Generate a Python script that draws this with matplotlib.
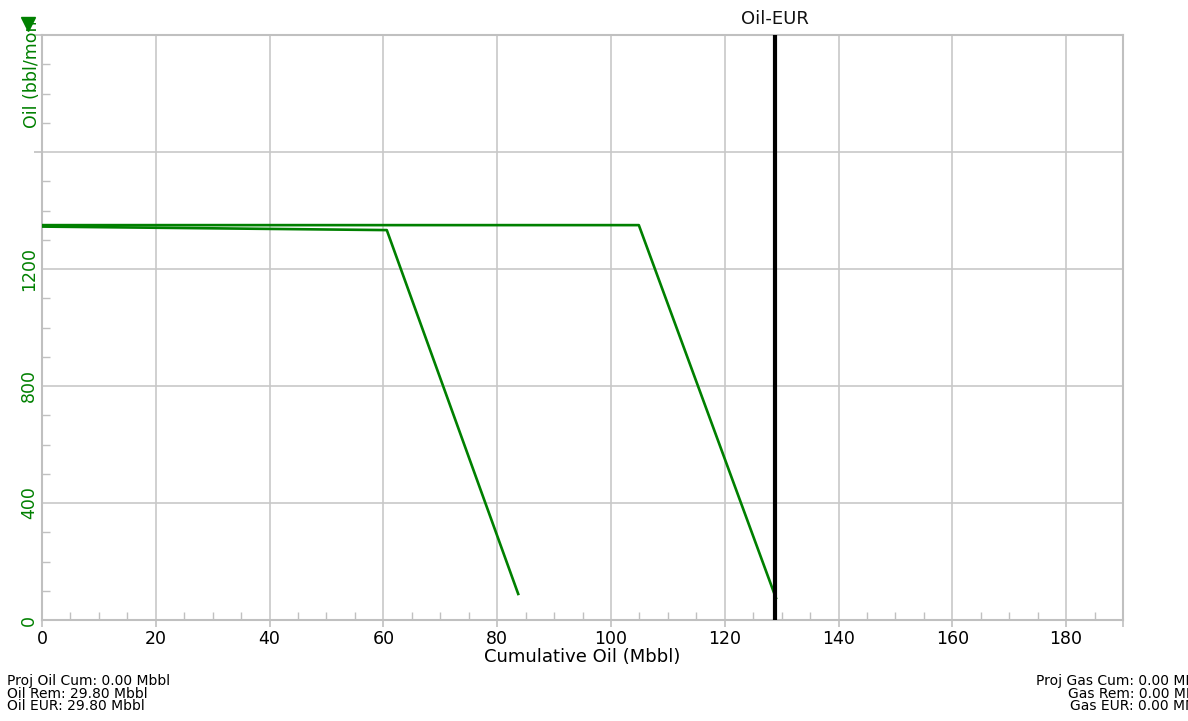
import matplotlib
matplotlib.use("Agg")
import matplotlib.pyplot as plt
from matplotlib.ticker import MultipleLocator
from matplotlib.patches import Rectangle
from matplotlib.lines import Line2D

# Forecast curves: cumulative oil (Mbbl) vs oil rate (bbl/month)
case_a_cum = [0.0, 60.6, 83.7]
case_a_rate = [1345, 1333, 89]
case_b_cum = [0.0, 104.9, 129.0]
case_b_rate = [1350, 1350, 75]
eur_cum = 128.8

x_ticks = [0, 20, 40, 60, 80, 100, 120, 140, 160, 180]
y_ticks = [0, 400, 800, 1200]

summary_left = ["Proj Oil Cum: 0.00 Mbbl", "Oil Rem: 29.80 Mbbl", "Oil EUR: 29.80 Mbbl"]
summary_right = ["Proj Gas Cum: 0.00 MMcf", "Gas Rem: 0.00 MMcf", "Gas EUR: 0.00 MMcf"]

GREEN = "#008000"
GRID = "#c8c8c8"
SPINE = "#c0c0c0"

W, H = 1188, 721
fig = plt.figure(figsize=(W / 100, H / 100), dpi=100)
ax = fig.add_axes([42 / W, 1 - 620 / H, (1123 - 42) / W, (620 - 35) / H])

ax.plot(case_a_cum, case_a_rate, color=GREEN, lw=1.9, zorder=3)
ax.plot(case_b_cum, case_b_rate, color=GREEN, lw=1.9, zorder=3)
ax.axvline(eur_cum, color="black", lw=3.0, zorder=4)
ax.text(eur_cum, 2000 + 25, "Oil-EUR", ha="center", va="bottom",
        fontsize=13, family="DejaVu Sans", color="#111111")

ax.set_xlim(0, 190)
ax.set_ylim(0, 2000)
ax.xaxis.set_minor_locator(MultipleLocator(5))
ax.yaxis.set_minor_locator(MultipleLocator(100))
ax.set_xticks(x_ticks + [190])
ax.set_xticklabels([str(v) for v in x_ticks] + [""])
ax.set_yticks(y_ticks + [1600, 2000])
ax.set_yticklabels([str(v) for v in y_ticks] + ["", ""])

ax.grid(True, which="major", color=GRID, lw=1.2, zorder=0)
for side in ["left", "bottom", "right", "top"]:
    ax.spines[side].set_color(SPINE)
    ax.spines[side].set_linewidth(1.5)

ax.tick_params(axis="x", which="major", direction="out", length=5, width=1.2,
               color=SPINE, labelsize=12.5, pad=2, labelcolor="black")
ax.tick_params(axis="x", which="minor", direction="in", length=6, width=1.0,
               color=SPINE)
ax.tick_params(axis="y", which="major", direction="out", length=6, width=1.2,
               color=SPINE, labelsize=12.5, pad=-3, labelcolor=GREEN)
ax.tick_params(axis="y", which="minor", direction="in", length=6, width=1.0,
               color=SPINE)
# Outward tick marks only where no label sits
for tick, val in zip(ax.yaxis.get_major_ticks(), y_ticks + [1600, 2000]):
    if val in y_ticks:
        tick.tick1line.set_visible(False)
for lbl in ax.get_yticklabels():
    lbl.set_rotation(90)
    lbl.set_va("center")
for lbl in ax.get_xticklabels() + ax.get_yticklabels():
    lbl.set_family("DejaVu Sans")

ax.set_xlabel("Cumulative Oil (Mbbl)", fontsize=13, family="DejaVu Sans",
              labelpad=0)

# Rotated axis title, cut off at the top like a clipped header
ylab = fig.text(32 / W, 1 - 128 / H, "Oil (bbl/month)", rotation=90,
                ha="center", va="bottom", color=GREEN, fontsize=12.5,
                family="DejaVu Sans")
ylab.set_clip_path(Rectangle((0, 0), 1, 1 - 22 / H, transform=fig.transFigure))
fig.add_artist(Line2D([28 / W], [1 - 24 / H], marker="v", markersize=10,
                      color=GREEN, transform=fig.transFigure))

for i, line in enumerate(summary_left):
    fig.text(7 / W, 1 - (681 + 12.5 * i) / H, line, ha="left", va="center",
             fontsize=10, family="DejaVu Sans")
for i, line in enumerate(summary_right):
    fig.text(1210 / W, 1 - (681 + 12.5 * i) / H, line, ha="right", va="center",
             fontsize=10, family="DejaVu Sans")

fig.savefig("out.png", dpi=100, facecolor="white")
